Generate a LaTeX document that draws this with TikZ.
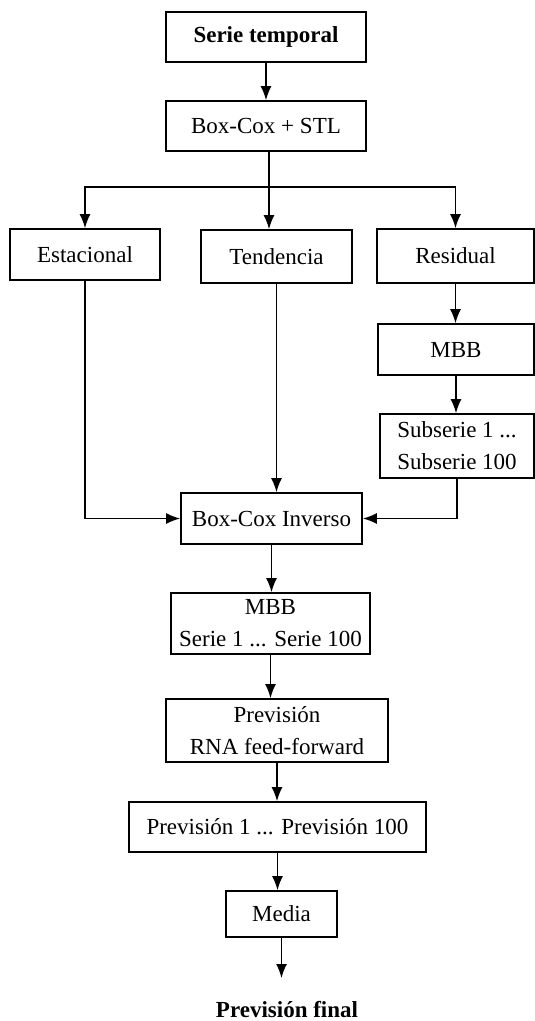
\documentclass[tikz,border=0pt]{standalone}
\usepackage{fontspec}
\setmainfont{Liberation Serif}
\usetikzlibrary{positioning, arrows.meta}

\begin{document}
\begin{tikzpicture}[
    x=1pt, y=-1pt,
    font=\fontsize{23}{32}\selectfont,
    block/.style={rectangle, draw, line width=1.6pt, inner sep=0pt, align=center},
    arrow/.style={-{Latex[length=14pt, width=11pt]}, line width=1.6pt},
    link/.style={line width=1.6pt}
]
    \useasboundingbox (0,0) rectangle (535,1021);

    % Blocks
    \node[block, minimum width=200pt, minimum height=50pt] (serie) at (266,37) {\textbf{Serie temporal}};
    \node[block, minimum width=200pt, minimum height=50pt] (stl) at (266,126) {Box-Cox + STL};
    \node[block, minimum width=150pt, minimum height=51pt] (est) at (85,254.5) {Estacional};
    \node[block, minimum width=151pt, minimum height=53pt] (tend) at (276.5,256.5) {Tendencia};
    \node[block, minimum width=157pt, minimum height=54pt] (resid) at (455.5,256) {Residual};
    \node[block, minimum width=156pt, minimum height=51pt] (mbb) at (456,349.5) {MBB};
    \node[block, minimum width=154pt, minimum height=64pt] (subs) at (457,446) {Subserie 1 ...\\Subserie 100};
    \node[block, minimum width=181pt, minimum height=51pt] (inv) at (271.5,518.5) {Box-Cox Inverso};
    \node[block, minimum width=199pt, minimum height=61pt] (mbbs) at (270.5,623.5) {MBB\\Serie 1 ... Serie 100};
    \node[block, minimum width=222pt, minimum height=63pt] (prev) at (277,730.5) {Previsión\\RNA feed-forward};
    \node[block, minimum width=297pt, minimum height=50pt] (prevs) at (277.5,827) {Previsión 1 ... Previsión 100};
    \node[block, minimum width=111pt, minimum height=46pt] (media) at (281.5,914) {Media};
    \node (final) at (287,1010) {\textbf{Previsión final}};
    \coordinate (split) at (269,187);
    \coordinate (out) at (281.5,978);

    % Connectors
    \draw[arrow] (serie) -- (stl);
    \draw[link] (stl.south -| split) -- (split);
    \draw[arrow] (split) -| (est);
    \draw[arrow] (split) -- (split |- tend.north);
    \draw[arrow] (split) -| (resid);
    \draw[arrow] (resid) -- (resid |- mbb.north);
    \draw[arrow] (mbb) -- (mbb |- subs.north);
    \draw[arrow] (est) |- (inv);
    \draw[arrow] (tend) -- (tend |- inv.north);
    \draw[arrow] (subs) |- (inv);
    \draw[arrow] (inv) -- (inv |- mbbs.north);
    \draw[arrow] (mbbs) -- (mbbs |- prev.north);
    \draw[arrow] (prev) -- (prev |- prevs.north);
    \draw[arrow] (prevs) -- (prevs |- media.north);
    \draw[arrow] (media) -- (out);
\end{tikzpicture}
\end{document}
